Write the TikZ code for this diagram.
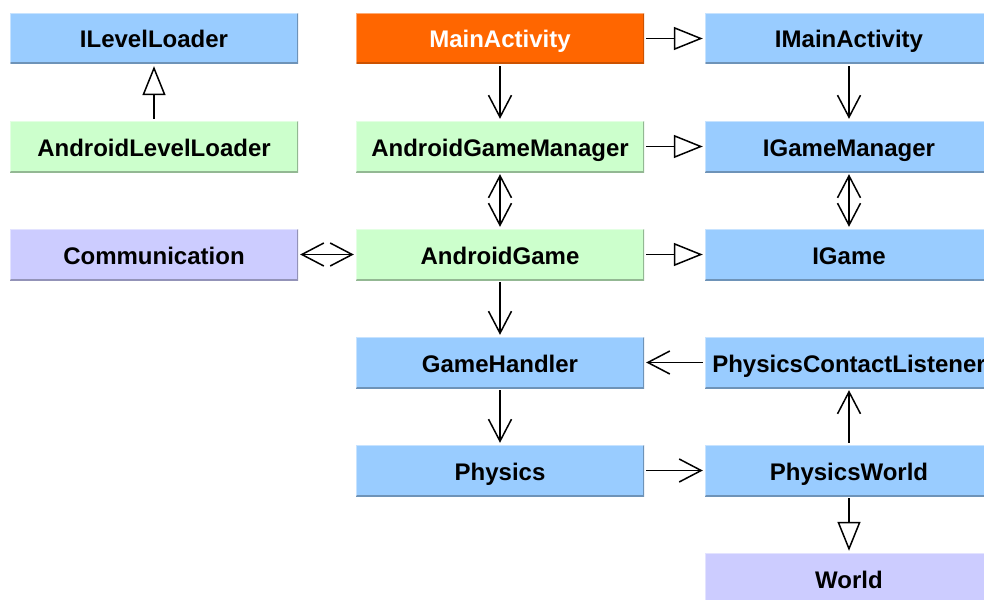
\documentclass[tikz,border=0pt]{standalone}
\usepackage{fontspec}
\setmainfont{Liberation Sans}
\usetikzlibrary{arrows.meta}

\definecolor{ifaceblue}{HTML}{99CCFF}
\definecolor{implgreen}{HTML}{CCFFCC}
\definecolor{extlilac}{HTML}{CCCCFF}
\definecolor{mainorange}{HTML}{FF6600}

\tikzset{
  cls/.style 2 args={
    rectangle, fill=#1, minimum width=288pt, minimum height=51pt, inner sep=0pt,
    text height=19pt, text depth=0pt,
    font=\fontsize{24pt}{28pt}\selectfont\bfseries,
    path picture={
      \draw[line width=3pt, draw=#2]
        (path picture bounding box.south west) -- (path picture bounding box.south east)
        -- (path picture bounding box.north east);
      \draw[line width=2pt, draw=white, draw opacity=0.45]
        (path picture bounding box.south west) -- (path picture bounding box.north west)
        -- (path picture bounding box.north east);
    }},
  iface/.style={cls={ifaceblue}{ifaceblue!72!black}},
  impl/.style={cls={implgreen}{implgreen!72!black}},
  ext/.style={cls={extlilac}{extlilac!72!black}},
  entry/.style={cls={mainorange}{mainorange!80!black}, text=white},
  conn/.style={line width=1.5pt, draw=black, shorten <=2pt, shorten >=2pt},
  uses/.style={conn, -{Straight Barb[length=22pt, width=23pt, line width=1.5pt]}},
  both/.style={conn, {Straight Barb[length=22pt, width=23pt, line width=1.5pt]}-{Straight Barb[length=22pt, width=23pt, line width=1.5pt]}},
  realizes/.style={conn, -{Triangle[open, length=29pt, width=23pt, line width=1.5pt, fill=white]}},
}

\begin{document}
\begin{tikzpicture}[x=1pt, y=-1pt]
  \path[use as bounding box, clip] (0,0) rectangle (984,599);

  % left column
  \node[iface] (ill)  at (154, 38.5)  {ILevelLoader};
  \node[impl]  (alll) at (154, 146.5) {AndroidLevelLoader};
  \node[ext]   (comm) at (154, 254.5) {Communication};

  % middle column
  \node[entry] (main) at (500, 38.5)  {MainActivity};
  \node[impl]  (agm)  at (500, 146.5) {AndroidGameManager};
  \node[impl]  (ag)   at (500, 254.5) {AndroidGame};
  \node[iface] (gh)   at (500, 362.5) {GameHandler};
  \node[iface] (phys) at (500, 470.5) {Physics};

  % right column
  \node[iface] (imain) at (849, 38.5)  {IMainActivity};
  \node[iface] (igm)   at (849, 146.5) {IGameManager};
  \node[iface] (ig)    at (849, 254.5) {IGame};
  \node[iface] (pcl)   at (849, 362.5) {PhysicsContactListener};
  \node[iface] (pw)    at (849, 470.5) {PhysicsWorld};
  \node[ext]   (world) at (849, 578.5) {World};

  % interface realisations and inheritance
  \draw[realizes] (alll) -- (ill);
  \draw[realizes] (main) -- (imain);
  \draw[realizes] (agm) -- (igm);
  \draw[realizes] (ag) -- (ig);
  \draw[realizes] (pw) -- (world);

  % associations
  \draw[uses] (main) -- (agm);
  \draw[uses] (imain) -- (igm);
  \draw[uses] (ag) -- (gh);
  \draw[uses] (gh) -- (phys);
  \draw[uses] (phys) -- (pw);
  \draw[uses] (pw) -- (pcl);
  \draw[uses] (pcl) -- (gh);

  % two-way associations
  \draw[both] (agm) -- (ag);
  \draw[both] (igm) -- (ig);
  \draw[both] (comm) -- (ag);
\end{tikzpicture}
\end{document}
